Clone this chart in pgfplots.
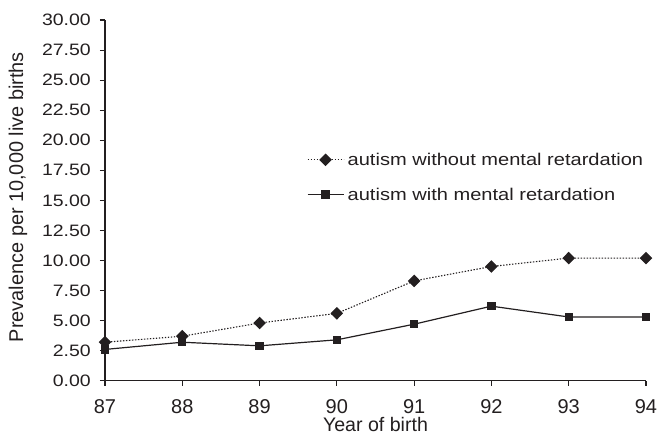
\documentclass[border=0pt]{standalone}
\usepackage{pgfplots}
\pgfplotsset{compat=1.18}
\usepackage{fontspec}
\setmainfont{Liberation Sans}
\newfontfamily\widefont[FakeStretch=1.18]{Liberation Sans}
\definecolor{ink}{HTML}{231F20}
\begin{document}
\begin{tikzpicture}
\begin{axis}[
    scale only axis,
    width=541bp, height=360.7bp,
    xmin=87, xmax=94,
    ymin=0, ymax=30,
    axis lines=left,
    axis line style={-, ink, line width=1.1bp},
    xtick={87,88,89,90,91,92,93,94},
    ytick={0,2.5,5,7.5,10,12.5,15,17.5,20,22.5,25,27.5,30},
    tick align=outside,
    major tick length=5bp,
    tick style={ink, line width=1.1bp},
    clip=false,
    /pgf/number format/assume math mode=true,
    yticklabel style={font=\widefont\fontsize{16.5bp}{19bp}\selectfont, text=ink,
        inner sep=0pt, anchor=east, xshift=-9bp,
        /pgf/number format/.cd, fixed, fixed zerofill, precision=2},
    xticklabel style={font=\fontsize{20bp}{24bp}\selectfont, text=ink,
        inner sep=0pt, anchor=base, yshift=-27.3bp},
    xlabel={Year of birth},
    ylabel={Prevalence per 10,000 live births},
    xlabel style={font=\fontsize{19.6bp}{23bp}\selectfont, text=ink, inner sep=0pt,
        at={(axis description cs:0.5,-0.141)}, anchor=base},
    ylabel style={font=\fontsize{19.9bp}{23bp}\selectfont, text=ink, inner sep=0pt,
        at={(axis description cs:-0.161,0.509)}, anchor=center},
    legend cell align=left,
    legend style={at={(axis description cs:0.373,0.632)}, anchor=north west,
        draw=none, fill=none, inner sep=0pt, row sep=21bp,
        font=\widefont\fontsize{17bp}{19bp}\selectfont, text=ink,
        nodes={inner xsep=3.5bp, inner ysep=0pt}},
    legend image code/.code={
        \draw[#1, mark repeat=2, mark phase=2]
            plot coordinates {(0bp,0bp) (18bp,0bp) (36bp,0bp)};
    },
]

% autism without mental retardation
\addplot[ink, line width=1.1bp, dash pattern=on 1.4bp off 1.6bp,
    mark=diamond*, mark size=5.5bp,
    mark options={solid, fill=ink, xscale=1.33}]
    coordinates {(87,3.2) (88,3.7) (89,4.8) (90,5.6) (91,8.3) (92,9.5) (93,10.2) (94,10.2)};
\addlegendentry{autism without mental retardation}

% autism with mental retardation
\addplot[ink, line width=1.2bp, mark=square*, mark size=3.6bp,
    mark options={solid, fill=ink}]
    coordinates {(87,2.6) (88,3.2) (89,2.9) (90,3.4) (91,4.7) (92,6.2) (93,5.3) (94,5.3)};
\addlegendentry{autism with mental retardation}

\end{axis}
\pgfresetboundingbox
\path ([xshift=-105bp,yshift=-54.3bp]current axis.south west) rectangle ++(658bp,435bp);
\end{tikzpicture}
\end{document}
